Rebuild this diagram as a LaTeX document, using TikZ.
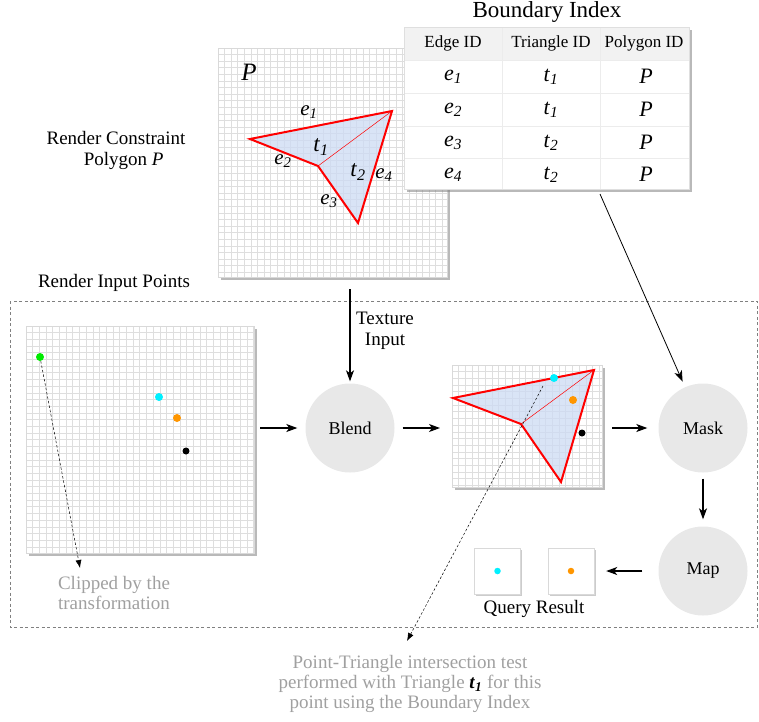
\documentclass[tikz,border=0pt]{standalone}
\usepackage{fontspec}
\setmainfont{Liberation Serif}
\usepackage{xcolor}
\usetikzlibrary{positioning, shadows, arrows.meta}

\definecolor{nodegray}{RGB}{232,232,232}
\definecolor{triblue}{RGB}{205,219,244}
\definecolor{gridgray}{RGB}{222,222,222}
\definecolor{notegray}{RGB}{160,160,160}
\definecolor{ptcyan}{RGB}{0,240,255}
\definecolor{ptorange}{RGB}{255,150,0}
\definecolor{ptgreen}{RGB}{0,235,0}

\newcommand{\sub}[2]{\textit{#1}\textsubscript{\textit{#2}}}

\tikzset{>={Stealth[length=11pt, width=8pt, inset=3pt]}}

\begin{document}
\begin{tikzpicture}[x=1pt, y=-1pt,
    panel/.style={draw=gray!30, fill=white, anchor=north west, inner sep=0pt,
        drop shadow={shadow xshift=2.5pt, shadow yshift=-2.5pt, opacity=0.55}},
    gridline/.style={gridgray, line width=0.9pt},
    stage/.style={circle, fill=nodegray, minimum size=89pt, inner sep=0pt,
        font=\fontsize{18}{21}\selectfont},
    edge/.style={red, line width=2pt, line join=miter},
    conn/.style={->, line width=1.1pt},
    hint/.style={dashed, -{Latex[length=8pt, width=6pt]}, line width=0.5pt, dash pattern=on 2.5pt off 2pt},
    note/.style={notegray, align=center, font=\fontsize{19}{20}\selectfont},
    plaintext/.style={font=\fontsize{19}{21}\selectfont, align=center},
    dot/.style={circle, inner sep=0pt, minimum size=8pt}]
    \useasboundingbox (0,0) rectangle (759,721);

    % Constraint polygon raster
    \node[panel, minimum width=229pt, minimum height=229pt] (polyraster) at (218,48) {};
    \foreach \x in {224.6,231.2,...,447} \draw[gridline] (\x,48.5) -- (\x,276.5);
    \foreach \y in {54.6,61.2,...,277} \draw[gridline] (218.5,\y) -- (446.5,\y);
    % Triangles
    \coordinate (pa) at (250,139);
    \coordinate (pb) at (392,111);
    \coordinate (pc) at (318,166);
    \coordinate (pd) at (358,223);
    \fill[triblue, fill opacity=0.75] (pa) -- (pb) -- (pd) -- (pc) -- cycle;
    \draw[red, line width=0.5pt] (pc) -- (pb);
    \draw[edge] (pa) -- (pb) -- (pd) -- (pc) -- cycle;
    % Text
    \node[font=\fontsize{25}{25}\selectfont\itshape] (plabel) at (249,72) {P};
    \node[font=\fontsize{21}{21}\selectfont] (eone) at (309,112) {\sub{e}{1}};
    \node[font=\fontsize{21}{21}\selectfont] (etwo) at (283,161) {\sub{e}{2}};
    \node[font=\fontsize{21}{21}\selectfont] (ethree) at (329,201) {\sub{e}{3}};
    \node[font=\fontsize{21}{21}\selectfont] (efour) at (384,175) {\sub{e}{4}};
    \node[font=\fontsize{23}{23}\selectfont] (tone) at (321,147) {\sub{t}{1}};
    \node[font=\fontsize{23}{23}\selectfont] (ttwo) at (358,172) {\sub{t}{2}};

    \node[plaintext] (constraint) at (116,150) {Render Constraint\\\hspace*{0.8em}Polygon \textit{P}};

    % Boundary index table
    \node[font=\fontsize{23}{23}\selectfont] (title) at (547,12) {Boundary Index};
    \node[panel, draw=gray!25, minimum width=285pt, minimum height=162pt] (index) at (404,27) {};
    \fill[gray!10] (404.5,27.5) rectangle (688.5,60);
    \foreach \y in {60,93,126,158} \draw[gray!15] (404.5,\y) -- (688.5,\y);
    \foreach \x in {502,600} \draw[gray!15] (\x,27.5) -- (\x,188.5);
    \node[font=\fontsize{17}{17}\selectfont] (hedge) at (453,43.5) {Edge ID};
    \node[font=\fontsize{17}{17}\selectfont] (htri) at (551,43.5) {Triangle ID};
    \node[font=\fontsize{17}{17}\selectfont] (hpoly) at (644,43.5) {Polygon ID};
    \foreach \e/\t/\y in {1/1/77, 2/1/110, 3/2/143, 4/2/175} {
        \node[font=\fontsize{22}{22}\selectfont] (edge\e) at (453,\y) {\sub{e}{\e}};
        \node[font=\fontsize{22}{22}\selectfont] (tri\e) at (551,\y) {\sub{t}{\t}};
        \node[font=\fontsize{22}{22}\selectfont\itshape] (poly\e) at (646,\y-1) {P};
    }

    % Input points
    \node[plaintext] (inputs) at (114,283) {Render Input Points};
    \draw[dashed, gray, line width=0.6pt, dash pattern=on 3pt off 2.5pt] (10,301) rectangle (757,627);

    \node[panel, minimum width=228pt, minimum height=227pt] (pointraster) at (26,326) {};
    \foreach \x in {32.7,39.4,...,254} \draw[gridline] (\x,326.5) -- (\x,552.5);
    \foreach \y in {332.7,339.4,...,553} \draw[gridline] (26.5,\y) -- (253.5,\y);
    \node[dot, fill=ptgreen] (greenpt) at (40,357) {};
    \node[dot, fill=ptcyan] (cyanpt) at (159,397) {};
    \node[dot, fill=ptorange] (orangept) at (177,418) {};
    \node[dot, fill=black, minimum size=7pt] (blackpt) at (186,451) {};

    \coordinate (clipend) at (80,568);
    \draw[hint] (greenpt) -- (clipend);
    \node[note] (clipnote) at (114,593) {Clipped by the\\transformation};

    % Stages
    \node[stage] (blend) at (350,428) {Blend};
    \node[stage] (mask) at (703,428) {Mask};
    \node[stage] (map) at (703,571) {Map};

    \coordinate (texin) at (350,289);
    \draw[conn, shorten >=2pt] (texin) -- (blend);
    \node[plaintext] (texlabel) at (385,331) {Texture\\Input};

    % Blended raster
    \node[panel, minimum width=150pt, minimum height=122pt] (blendraster) at (452,365) {};
    \foreach \x in {458.7,465.4,...,602} \draw[gridline] (\x,365.5) -- (\x,486.5);
    \foreach \y in {371.7,378.4,...,487} \draw[gridline] (452.5,\y) -- (601.5,\y);
    \coordinate (qa) at (453,398);
    \coordinate (qb) at (594,370);
    \coordinate (qc) at (521,424);
    \coordinate (qd) at (561,482);
    \fill[triblue, fill opacity=0.75] (qa) -- (qb) -- (qd) -- (qc) -- cycle;
    \draw[red, line width=0.5pt] (qc) -- (qb);
    \draw[edge] (qa) -- (qb) -- (qd) -- (qc) -- cycle;
    \node[dot, fill=ptcyan] (cyanhit) at (554,378) {};
    \node[dot, fill=ptorange] (orangehit) at (573,400) {};
    \node[dot, fill=black, minimum size=7pt] (blackhit) at (582,433) {};

    \coordinate (hitstart) at (543,386);
    \coordinate (hitend) at (407,641);
    \draw[hint] (hitstart) -- (hitend);
    \node[note] (hitnote) at (410,684) {Point-Triangle intersection test\\performed with Triangle \textcolor{black}{\textbf{\sub{t}{1}}} for this\\point using the Boundary Index};

    % Query result
    \node[draw=gray!30, fill=white, minimum size=46pt, inner sep=0pt,
        drop shadow={shadow xshift=1.5pt, shadow yshift=-1.5pt, opacity=0.4}] (qone) at (497.5,571) {};
    \node[draw=gray!30, fill=white, minimum size=46pt, inner sep=0pt,
        drop shadow={shadow xshift=1.5pt, shadow yshift=-1.5pt, opacity=0.4}] (qtwo) at (571,571) {};
    \node[dot, fill=ptcyan, minimum size=6.5pt] (cyanres) at (qone) {};
    \node[dot, fill=ptorange, minimum size=6.5pt] (orangeres) at (qtwo) {};
    \node[plaintext] (result) at (534,609) {Query Result};

    % Arrows
    \draw[conn, shorten <=6pt, shorten >=8pt] (pointraster.east |- blend) -- (blend);
    \draw[conn, shorten <=8pt, shorten >=12pt] (blend) -- (blendraster.west |- blend);
    \draw[conn, shorten <=10pt, shorten >=11pt] (blendraster.east |- mask) -- (mask);
    \coordinate (indexout) at (600,194);
    \draw[conn, line width=0.8pt, shorten >=6pt] (indexout) -- (mask);
    \draw[conn, shorten <=6pt, shorten >=7pt] (mask) -- (map);
    \draw[conn, shorten <=16pt, shorten >=12pt] (map) -- (qtwo);
\end{tikzpicture}
\end{document}
